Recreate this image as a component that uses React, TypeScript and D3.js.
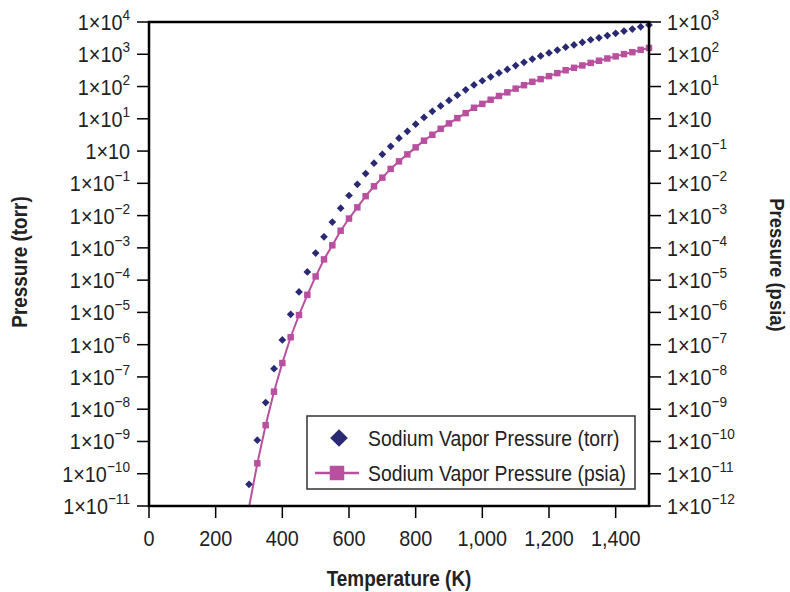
import React from "react";
import * as d3 from "d3";

// temperature (K) of each reading
const temps = [
  300, 325, 350, 375, 400, 425, 450, 475, 500, 525, 550, 575, 600, 625, 650,
  675, 700, 725, 750, 775, 800, 825, 850, 875, 900, 925, 950, 975, 1000, 1025,
  1050, 1075, 1100, 1125, 1150, 1175, 1200, 1225, 1250, 1275, 1300, 1325, 1350,
  1375, 1400, 1425, 1450, 1475, 1500,
];

// sodium vapor pressure, torr (left axis)
const torr = [
  4.7e-11, 1.1e-9, 1.6e-8, 1.8e-7, 1.4e-6, 8.7e-6, 4.3e-5, 1.8e-4, 6.9e-4,
  2.2e-3, 6.3e-3, 1.7e-2, 4.2e-2, 9.3e-2, 0.2, 0.42, 0.79, 1.4, 2.5, 4.1, 6.8,
  11, 17, 25, 37, 54, 79, 112, 151, 200, 263, 339, 447, 562, 708, 891, 1096,
  1349, 1660, 1950, 2344, 2818, 3236, 3802, 4467, 5248, 6026, 7079, 8128,
];

// sodium vapor pressure, psia (right axis)
const psia = [
  9.1e-13, 2.1e-11, 3.2e-10, 3.5e-9, 2.7e-8, 1.7e-7, 8.3e-7, 3.5e-6, 1.3e-5,
  4.4e-5, 1.2e-4, 3.4e-4, 8.1e-4, 1.8e-3, 4.0e-3, 8.1e-3, 1.5e-2, 2.8e-2,
  4.8e-2, 7.9e-2, 0.13, 0.21, 0.32, 0.49, 0.72, 1.05, 1.5, 2.2, 2.9, 3.9, 5.1,
  6.6, 8.6, 11, 14, 17, 21, 26, 32, 38, 45, 54, 63, 74, 86, 101, 116, 137, 157,
];

const xTicks = [0, 200, 400, 600, 800, 1000, 1200, 1400];
const xTickLabels = ["0", "200", "400", "600", "800", "1,000", "1,200", "1,400"];

const leftTicks = [1e4, 1e3, 1e2, 1e1, 1, 1e-1, 1e-2, 1e-3, 1e-4, 1e-5, 1e-6, 1e-7, 1e-8, 1e-9, 1e-10, 1e-11];
const leftSups = ["4", "3", "2", "1", "", "−1", "−2", "−3", "−4", "−5", "−6", "−7", "−8", "−9", "−10", "−11"];

const rightTicks = [1e3, 1e2, 1e1, 1, 1e-1, 1e-2, 1e-3, 1e-4, 1e-5, 1e-6, 1e-7, 1e-8, 1e-9, 1e-10, 1e-11, 1e-12];
const rightSups = ["3", "2", "1", "", "−1", "−2", "−3", "−4", "−5", "−6", "−7", "−8", "−9", "−10", "−11", "−12"];

const W = 790;
const H = 592;
const left = 149;
const right = 649;
const top = 22;
const bottom = 506;

const NAVY = "#2a2a72";
const MAGENTA = "#b9509f";
const INK = "#222";
const FONT = "'Liberation Sans', Arial, sans-serif";
const SQ = 0.88; // horizontal squeeze, the original face is a condensed one

// text drawn a little narrower than the installed face
const T = ({ x, y, rot = 0, anchor = "start", size, bold = false, children }: any) => (
  <text
    transform={`translate(${x},${y}) rotate(${rot}) scale(${SQ},1)`}
    textAnchor={anchor}
    fontSize={size}
    fontWeight={bold ? "bold" : "normal"}
    fill={INK}
  >
    {children}
  </text>
);

const App = () => {
  const x = d3.scaleLinear().domain([0, 1500]).range([left, right]);
  const yL = d3.scaleLog().domain([1e-11, 1e4]).range([bottom, top]);
  const yR = d3.scaleLog().domain([1e-12, 1e3]).range([bottom, top]);

  const psiaLine = d3
    .line<number>()
    .x((_, i) => x(temps[i]))
    .y((d) => yR(d))(psia);

  const diamond = d3.symbol(d3.symbolDiamond2, 38)();
  const square = d3.symbol(d3.symbolSquare, 42)();
  const legendDiamond = d3.symbol(d3.symbolDiamond2, 200)();
  const legendSquare = d3.symbol(d3.symbolSquare, 210)();

  const inL = (v: number) => v >= 1e-11 && v <= 1e4;
  const inR = (v: number) => v >= 1e-12 && v <= 1e3;

  const tick = (sup: string) => (
    <>
      1×10
      {sup && (
        <tspan dy={-10} fontSize={15.5}>
          {sup}
        </tspan>
      )}
    </>
  );

  return (
    <svg width={W} height={H} style={{ position: "absolute", left: 0, top: 0, background: "#fff" }} fontFamily={FONT}>
      <defs>
        <clipPath id="plot">
          <rect x={left} y={top} width={right - left} height={bottom - top} />
        </clipPath>
      </defs>

      {/* psia line + squares */}
      <path d={psiaLine || ""} fill="none" stroke={MAGENTA} strokeWidth={2} clipPath="url(#plot)" />
      {psia.map((v, i) =>
        inR(v) ? (
          <path key={"s" + i} d={square} transform={`translate(${x(temps[i])},${yR(v)})`} fill={MAGENTA} />
        ) : null
      )}

      {/* torr diamonds */}
      {torr.map((v, i) =>
        inL(v) ? (
          <path key={"d" + i} d={diamond} transform={`translate(${x(temps[i])},${yL(v)})`} fill={NAVY} />
        ) : null
      )}

      {/* frame */}
      <rect x={left} y={top} width={right - left} height={bottom - top} fill="none" stroke="#000" strokeWidth={2.5} />

      {/* left axis */}
      {leftTicks.map((t, i) => (
        <g key={"l" + i}>
          <line x1={left - 12} x2={left} y1={yL(t)} y2={yL(t)} stroke="#000" strokeWidth={1.5} />
          <T x={130} y={yL(t) + 8} anchor="end" size={22.5}>
            {tick(leftSups[i])}
          </T>
        </g>
      ))}

      {/* right axis */}
      {rightTicks.map((t, i) => (
        <g key={"r" + i}>
          <line x1={right} x2={right + 12} y1={yR(t)} y2={yR(t)} stroke="#000" strokeWidth={1.5} />
          <T x={667} y={yR(t) + 8} size={22.5}>
            {tick(rightSups[i])}
          </T>
        </g>
      ))}

      {/* bottom axis */}
      {xTicks.map((t, i) => (
        <g key={"x" + i}>
          <line x1={x(t)} x2={x(t)} y1={bottom} y2={bottom + 12} stroke="#000" strokeWidth={1.5} />
          <T x={x(t)} y={546} anchor="middle" size={22.5}>
            {xTickLabels[i]}
          </T>
        </g>
      ))}

      {/* axis titles */}
      <T x={399} y={586} anchor="middle" size={21.5} bold>
        Temperature (K)
      </T>
      <T x={27} y={262} rot={-90} anchor="middle" size={21.5} bold>
        Pressure (torr)
      </T>
      <T x={770} y={265} rot={90} anchor="middle" size={21} bold>
        Pressure (psia)
      </T>

      {/* legend */}
      <rect x={307} y={416} width={328} height={73} fill="#fff" stroke="#333" strokeWidth={1.5} />
      <path d={legendDiamond} transform="translate(339,438)" fill={NAVY} />
      <T x={368} y={446} size={22}>
        Sodium Vapor Pressure (torr)
      </T>
      <line x1={315} x2={359} y1={473} y2={473} stroke={MAGENTA} strokeWidth={2.5} />
      <path d={legendSquare} transform="translate(337,473)" fill={MAGENTA} />
      <T x={368} y={481} size={22}>
        Sodium Vapor Pressure (psia)
      </T>
    </svg>
  );
};

export default App;
